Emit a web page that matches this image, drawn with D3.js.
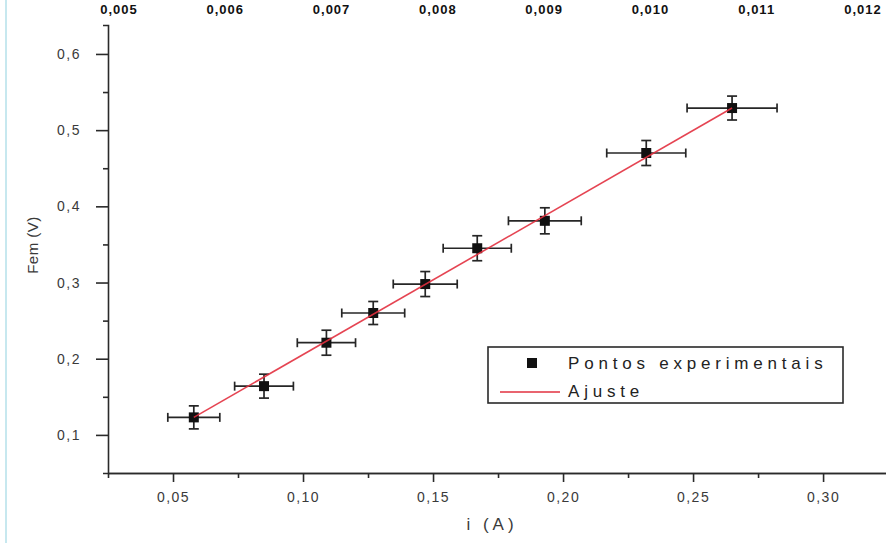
<!DOCTYPE html>
<html>
<head>
<meta charset="utf-8">
<script src="https://cdn.jsdelivr.net/npm/d3@7"></script>
<style>
  html, body { margin: 0; padding: 0; background: #fff; }
  svg { display: block; font-family: "Liberation Sans", Arial, sans-serif; }
</style>
</head>
<body>
<svg id="chart" width="886" height="543"></svg>
<script>
// ---- data ----
const currentA   = [0.058, 0.085, 0.109, 0.127, 0.147, 0.167, 0.193, 0.232, 0.265];
const femV       = [0.123, 0.164, 0.221, 0.260, 0.298, 0.345, 0.381, 0.470, 0.529];
const currentErr = [0.0100, 0.0113, 0.0112, 0.0121, 0.0123, 0.0131, 0.0140, 0.0152, 0.0173];
const femErr     = [0.0151, 0.0157, 0.0164, 0.0151, 0.0164, 0.0164, 0.0171, 0.0164, 0.0157];
const fitX       = [0.058, 0.265];
const fitY       = [0.123, 0.529];
const xTicks     = [0.05, 0.10, 0.15, 0.20, 0.25, 0.30];
const xMinor     = [0.025, 0.075, 0.125, 0.175, 0.225, 0.275, 0.325];
const yTicks     = [0.1, 0.2, 0.3, 0.4, 0.5, 0.6];
const yMinor     = [0.15, 0.25, 0.35, 0.45, 0.55];
const topTicks   = [0.005, 0.006, 0.007, 0.008, 0.009, 0.010, 0.011, 0.012];
const legendLabels = ["Pontos experimentais", "Ajuste"];
const xTitle = "i (A)";
const yTitle = "Fem (V)";

const svg = d3.select("#chart");
const loc = d3.formatLocale({decimal: ",", thousands: ".", grouping: [3], currency: ["", ""]});
const fmt2 = loc.format(".2f"), fmt1 = loc.format(".1f"), fmt3 = loc.format(".3f");

const x = d3.scaleLinear().domain([0.025, 0.3242]).range([108, 886]);
const y = d3.scaleLinear().domain([0.05, 0.638]).range([473, 25]);
const xTop = d3.scaleLinear().domain([0.005, 0.012]).range([119, 863]);

// faint left border line
svg.append("line").attr("x1", 6).attr("x2", 6).attr("y1", 0).attr("y2", 543)
  .attr("stroke", "#b5e0ea").attr("stroke-width", 1.5);

// top labels (belonging to an axis cut off above the picture)
svg.append("g").selectAll("text").data(topTicks).join("text")
  .attr("x", d => xTop(d)).attr("y", 14)
  .attr("text-anchor", "middle")
  .attr("font-size", 13).attr("font-weight", "bold").attr("fill", "#111")
  .attr("letter-spacing", 1)
  .text(d => fmt3(d));

const axisColor = "#2a2a2a";
function styleAxis(g) {
  g.selectAll("path, line").attr("stroke", axisColor).attr("stroke-width", 1.6);
  g.selectAll("text").attr("fill", "#3a3a3a").attr("font-size", 14).attr("letter-spacing", 1.5)
    .attr("font-family", "'Liberation Sans', Arial, sans-serif");
}

// x axis
const gxMinor = svg.append("g").attr("transform", "translate(0,473)")
  .call(d3.axisBottom(x).tickValues(xMinor).tickSize(5).tickSizeOuter(0).tickFormat(""));
styleAxis(gxMinor);
const gx = svg.append("g").attr("transform", "translate(0,473)")
  .call(d3.axisBottom(x).tickValues(xTicks).tickSize(9).tickSizeOuter(0).tickPadding(10).tickFormat(fmt2));
styleAxis(gx);

// y axis
const gyMinor = svg.append("g").attr("transform", "translate(108,0)")
  .call(d3.axisLeft(y).tickValues(yMinor).tickSize(5).tickSizeOuter(5).tickFormat(""));
styleAxis(gyMinor);
const gy = svg.append("g").attr("transform", "translate(108,0)")
  .call(d3.axisLeft(y).tickValues(yTicks).tickSize(12).tickSizeOuter(5).tickPadding(15).tickFormat(fmt1));
styleAxis(gy);
gy.select(".domain").remove();

// axis titles
svg.append("text").attr("x", 492).attr("y", 530).attr("text-anchor", "middle")
  .attr("font-size", 17).attr("letter-spacing", 4).attr("fill", "#3a3a3a").text(xTitle);
svg.append("text").attr("transform", "translate(38,245) rotate(-90)").attr("text-anchor", "middle")
  .attr("font-size", 15).attr("letter-spacing", 0.5).attr("fill", "#3a3a3a").text(yTitle);

// data points
const pts = currentA.map((v, i) => ({x: v, y: femV[i], ex: currentErr[i], ey: femErr[i]}));
const errColor = "#262626";
const eb = svg.append("g");
pts.forEach(p => {
  const cx = x(p.x), cy = y(p.y);
  const x0 = x(p.x - p.ex), x1 = x(p.x + p.ex);
  const y0 = y(p.y - p.ey), y1 = y(p.y + p.ey);
  const g = eb.append("g").attr("stroke", errColor).attr("stroke-width", 1.7);
  g.append("line").attr("x1", x0).attr("x2", x1).attr("y1", cy).attr("y2", cy);
  g.append("line").attr("x1", x0).attr("x2", x0).attr("y1", cy - 4.5).attr("y2", cy + 4.5);
  g.append("line").attr("x1", x1).attr("x2", x1).attr("y1", cy - 4.5).attr("y2", cy + 4.5);
  g.append("line").attr("x1", cx).attr("x2", cx).attr("y1", y0).attr("y2", y1);
  g.append("line").attr("x1", cx - 5).attr("x2", cx + 5).attr("y1", y0).attr("y2", y0);
  g.append("line").attr("x1", cx - 5).attr("x2", cx + 5).attr("y1", y1).attr("y2", y1);
});
svg.append("g").selectAll("rect").data(pts).join("rect")
  .attr("x", d => x(d.x) - 5).attr("y", d => y(d.y) - 5)
  .attr("width", 10).attr("height", 10).attr("fill", "#111");

// fit line
svg.append("path").datum(fitX.map((v, i) => [v, fitY[i]]))
  .attr("d", d3.line().x(d => x(d[0])).y(d => y(d[1])))
  .attr("stroke", "#e2303f").attr("stroke-width", 1.6).attr("fill", "none").attr("opacity", 0.9);

// legend
const lg = svg.append("g");
lg.append("rect").attr("x", 488).attr("y", 347).attr("width", 355).attr("height", 56)
  .attr("fill", "#fff").attr("stroke", "#2a2a2a").attr("stroke-width", 1.6);
lg.append("rect").attr("x", 527).attr("y", 358).attr("width", 10).attr("height", 10).attr("fill", "#111");
lg.append("line").attr("x1", 500).attr("x2", 560).attr("y1", 392).attr("y2", 392)
  .attr("stroke", "#e2303f").attr("stroke-width", 1.6);
lg.append("text").attr("x", 568).attr("y", 369).attr("font-size", 17).attr("letter-spacing", 4.8)
  .attr("fill", "#222").text(legendLabels[0]);
lg.append("text").attr("x", 568).attr("y", 397).attr("font-size", 17).attr("letter-spacing", 4.8)
  .attr("fill", "#222").text(legendLabels[1]);
</script>
</body>
</html>
